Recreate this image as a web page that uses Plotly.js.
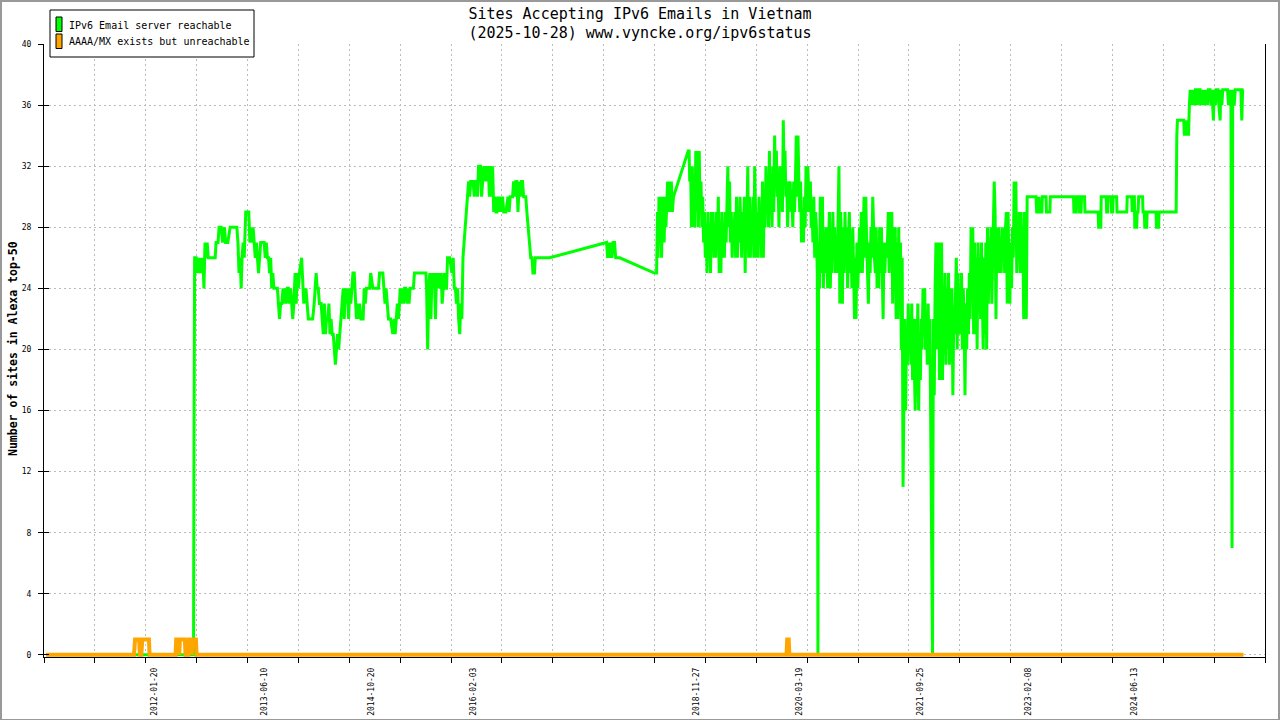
<!DOCTYPE html>
<html><head><meta charset="utf-8">
<script src="https://cdn.plot.ly/plotly-3.0.1.min.js"></script>
<style>
html,body{margin:0;padding:0;background:#fff;}
#chart{width:1280px;height:720px;position:absolute;left:0;top:0;}
#frame{position:absolute;left:0;top:0;width:1280px;height:720px;box-sizing:border-box;border-style:solid;border-color:#999;border-width:2px 2px 1px 2px;pointer-events:none;}
</style>
</head><body>
<div id="chart"></div><div id="frame"></div>
<script>
// ---------- text ----------
const titleLine1 = 'Sites Accepting IPv6 Emails in Vietnam';
const titleLine2 = '(2025-10-28) www.vyncke.org/ipv6status';
const yTitle = 'Number of sites in Alexa top-50';
const seriesNames = ['IPv6 Email server reachable', 'AAAA/MX exists but unreachable'];
const labelDates = ['2012-01-20','2013-06-10','2014-10-20','2016-02-03','2018-11-27','2020-03-19','2021-09-25','2023-02-08','2024-06-13'];
const yTicks = [0,4,8,12,16,20,24,28,32,36,40];

// ---------- green series: IPv6 Email server reachable ----------
const gDatesA = ['2010-09-08','2012-07-20','2012-07-22','2012-07-25',
 '2012-08-01','2012-08-06','2012-08-11','2012-08-16','2012-08-21','2012-08-26',
 '2012-09-01','2012-09-06','2012-09-11','2012-09-16','2012-09-21','2012-09-26',
 '2012-10-01','2012-10-15','2012-10-28',
 '2012-11-01','2012-11-10','2012-11-15','2012-11-25',
 '2012-12-01','2012-12-10','2012-12-15','2012-12-25'];
const gValsA = [0,0,13,26,
 26,25,26,25,26,25,
 26,24,27,26,27,26,
 26,26,26,
 27,27,28,28,
 27,28,27,27];

const gDates2013 = ['2013-01-05','2013-01-25',
 '2013-02-05','2013-02-10','2013-02-15','2013-02-20','2013-02-25',
 '2013-03-01','2013-03-06','2013-03-11','2013-03-18','2013-03-25',
 '2013-04-01','2013-04-06','2013-04-11','2013-04-16','2013-04-21','2013-04-26',
 '2013-05-01','2013-05-06','2013-05-11','2013-05-16','2013-05-21','2013-05-26',
 '2013-06-01','2013-06-11','2013-06-16','2013-06-21','2013-06-26',
 '2013-07-01','2013-07-06','2013-07-11','2013-07-16','2013-07-21','2013-07-26',
 '2013-08-01','2013-08-11','2013-08-21','2013-08-26',
 '2013-09-01','2013-09-06','2013-09-11','2013-09-16','2013-09-21','2013-09-26',
 '2013-10-01','2013-10-06','2013-10-11','2013-10-16','2013-10-21','2013-10-26',
 '2013-11-01','2013-11-06','2013-11-11','2013-11-16','2013-11-21',
 '2013-12-01','2013-12-06','2013-12-11','2013-12-21','2013-12-26'];
const gVals2013 = [28,28,
 28,27,25,26,24,
 26,27,26,29,29,
 29,27,28,27,28,27,
 26,27,26,25,26,27,
 27,27,26,27,26,
 26,25,26,24,25,24,
 24,24,22,23,
 23,24,23,24,23,24,
 24,23,24,23,22,23,
 25,23,25,24,25,
 26,24,23,24,23];

const gDates2014 = ['2014-01-01','2014-01-11','2014-01-21','2014-01-28',
 '2014-02-01','2014-02-06','2014-02-11','2014-02-16','2014-02-21',
 '2014-03-01','2014-03-06','2014-03-11','2014-03-16','2014-03-21','2014-03-26',
 '2014-04-01','2014-04-06','2014-04-11','2014-04-16','2014-04-21','2014-04-26',
 '2014-05-01','2014-05-06','2014-05-11','2014-05-16','2014-05-21','2014-05-26',
 '2014-06-01','2014-06-06','2014-06-11','2014-06-16','2014-06-21','2014-06-26',
 '2014-07-01','2014-07-06','2014-07-11','2014-07-16','2014-07-21','2014-07-26',
 '2014-08-01','2014-08-06','2014-08-11','2014-08-16','2014-08-21','2014-08-26',
 '2014-09-01','2014-09-11','2014-09-16','2014-09-21','2014-09-26',
 '2014-10-01','2014-10-11','2014-10-16','2014-10-26',
 '2014-11-01','2014-11-11','2014-11-21','2014-11-26',
 '2014-12-01','2014-12-11','2014-12-16','2014-12-21','2014-12-26'];
const gVals2014 = [22,22,22,23,
 24,25,24,24,23,
 23,22,21,23,21,22,
 22,23,21,22,21,21,
 20,19,20,21,20,21,
 22,23,24,22,24,23,
 24,22,24,23,24,25,
 25,23,22,23,22,23,
 22,22,24,23,24,
 24,24,25,24,
 24,24,24,25,
 25,25,24,23,24];

const gDates2015 = ['2015-01-01','2015-01-06','2015-01-16','2015-01-26',
 '2015-02-01','2015-02-06','2015-02-16','2015-02-21','2015-02-26',
 '2015-03-01','2015-03-06','2015-03-11','2015-03-16','2015-03-21','2015-03-26',
 '2015-04-01','2015-04-06','2015-04-11','2015-04-16','2015-04-26',
 '2015-05-01','2015-05-06','2015-05-16','2015-05-26',
 '2015-06-01','2015-06-16','2015-06-28',
 '2015-07-01','2015-07-06','2015-07-11','2015-07-16','2015-07-21','2015-07-26',
 '2015-08-01','2015-08-06','2015-08-11','2015-08-16','2015-08-21','2015-08-26',
 '2015-09-01','2015-09-06','2015-09-11','2015-09-16','2015-09-21','2015-09-26',
 '2015-10-01','2015-10-06','2015-10-16','2015-10-26',
 '2015-11-01','2015-11-06','2015-11-11','2015-11-16','2015-11-21','2015-11-26',
 '2015-12-01','2015-12-06','2015-12-11','2015-12-16','2015-12-21','2015-12-26'];
const gVals2015 = [23,22,22,21,
 22,21,23,22,23,
 24,23,24,23,24,24,
 23,24,23,24,24,
 24,25,25,25,
 25,25,25,
 24,20,24,25,22,25,
 24,25,22,25,24,25,
 24,25,23,24,25,24,
 24,26,26,25,
 26,24,24,23,24,22,
 21,23,22,26,27,28];

const gDates2016 = ['2016-01-01','2016-01-06','2016-01-11','2016-01-16','2016-01-21','2016-01-26',
 '2016-02-01','2016-02-06','2016-02-11','2016-02-16','2016-02-21','2016-02-26',
 '2016-03-01','2016-03-06','2016-03-11','2016-03-16','2016-03-21','2016-03-26',
 '2016-04-01','2016-04-06','2016-04-11','2016-04-16','2016-04-21','2016-04-26',
 '2016-05-01','2016-05-06','2016-05-11','2016-05-16','2016-05-21','2016-05-26',
 '2016-06-01','2016-06-06','2016-06-11','2016-06-16','2016-06-21',
 '2016-07-01','2016-07-11','2016-07-16','2016-07-21',
 '2016-08-01','2016-08-06','2016-08-11','2016-08-16','2016-08-21','2016-08-26',
 '2016-09-01','2016-09-06','2016-09-11','2016-09-16','2016-09-21',
 '2016-10-01','2016-10-06','2016-10-12','2016-10-18','2016-10-24','2016-10-30',
 '2016-11-03','2016-11-10','2016-11-14','2016-11-30',
 '2016-12-15','2017-01-19'];
const gVals2016 = [29,30,31,30,31,31,
 31,30,31,31,30,32,
 32,32,30,31,32,31,
 32,31,32,30,32,30,
 32,29,30,29,29,30,
 29,30,29,30,29,
 29,30,29,30,
 30,31,30,31,31,29,
 31,30,31,31,30,
 30,29,28,27,26,26,
 25,25,26,26,
 26,26];

const gDates2017 = ['2017-10-09','2017-10-14','2017-10-18','2017-10-24','2017-10-29',
 '2017-11-03','2017-11-08','2017-11-15','2017-11-20','2017-12-09',
 '2018-05-18','2018-05-28',
 '2018-06-01','2018-06-04','2018-06-08','2018-06-12','2018-06-16','2018-06-20','2018-06-24','2018-06-28',
 '2018-07-02','2018-07-06','2018-07-10','2018-07-14','2018-07-18','2018-07-22','2018-07-26','2018-07-30',
 '2018-08-04','2018-08-09','2018-08-14',
 '2018-10-21','2018-10-25','2018-10-28','2018-11-01',
 '2018-11-05','2018-11-09','2018-11-13','2018-11-17','2018-11-21','2018-11-25','2018-11-29',
 '2018-12-03','2018-12-07','2018-12-11','2018-12-15','2018-12-19','2018-12-23','2018-12-27','2018-12-31'];
const gVals2017 = [27,26,27,26,27,
 26,27,27,26,26,
 25,25,
 29,26,30,27,30,26,29,30,
 27,30,28,30,31,29,31,29,
 31,29,30,
 33,33,31,32,
 28,32,28,31,28,33,29,
 33,28,33,29,31,28,30,27];

const gDates2019 = ['2019-01-04','2019-01-08','2019-01-12','2019-01-16','2019-01-20','2019-01-24','2019-01-28',
 '2019-02-01','2019-02-05','2019-02-09','2019-02-13','2019-02-17','2019-02-21','2019-02-25',
 '2019-03-01','2019-03-05','2019-03-09','2019-03-13','2019-03-17','2019-03-21','2019-03-25','2019-03-29',
 '2019-04-02','2019-04-06','2019-04-10','2019-04-14','2019-04-18','2019-04-22','2019-04-26','2019-04-30',
 '2019-05-04','2019-05-08','2019-05-12','2019-05-16','2019-05-20','2019-05-24','2019-05-28',
 '2019-06-01','2019-06-05','2019-06-09','2019-06-13','2019-06-17','2019-06-21','2019-06-25','2019-06-29',
 '2019-07-03','2019-07-07','2019-07-11','2019-07-15','2019-07-19','2019-07-23','2019-07-27','2019-07-31',
 '2019-08-04','2019-08-08','2019-08-12','2019-08-16','2019-08-20','2019-08-24','2019-08-28',
 '2019-09-01','2019-09-05','2019-09-09','2019-09-13','2019-09-17','2019-09-21','2019-09-25','2019-09-29',
 '2019-10-03','2019-10-07','2019-10-11','2019-10-15','2019-10-19','2019-10-23','2019-10-27','2019-10-31',
 '2019-11-04','2019-11-08','2019-11-12','2019-11-16','2019-11-20','2019-11-24','2019-11-28',
 '2019-12-02','2019-12-06','2019-12-10','2019-12-14','2019-12-18','2019-12-22','2019-12-26','2019-12-30'];
const gVals2019 = [29,26,28,25,29,26,28,
 25,29,27,29,26,28,26,
 29,27,30,25,27,25,29,26,
 28,26,29,27,30,32,28,31,
 27,29,26,28,27,29,26,
 30,26,29,27,30,28,26,29,
 27,30,25,29,28,32,26,30,
 26,29,27,30,26,32,28,
 26,29,26,30,27,29,26,31,
 26,30,28,32,29,31,28,33,
 29,31,28,32,29,34,31,
 33,30,31,28,32,30,31,29];

const gDates2020 = ['2020-01-03','2020-01-07','2020-01-11','2020-01-15','2020-01-19','2020-01-23','2020-01-27','2020-01-31',
 '2020-02-04','2020-02-08','2020-02-12','2020-02-16','2020-02-20','2020-02-24','2020-02-28',
 '2020-03-03','2020-03-07','2020-03-11','2020-03-15','2020-03-19','2020-03-23','2020-03-27',
 '2020-04-01','2020-04-05','2020-04-09','2020-04-13','2020-04-17','2020-04-21','2020-04-25','2020-04-29',
 '2020-05-03','2020-05-07','2020-05-11','2020-05-15','2020-05-19','2020-05-23','2020-05-27','2020-05-31',
 '2020-06-04','2020-06-08','2020-06-11','2020-06-14','2020-06-18','2020-06-22','2020-06-26','2020-06-30',
 '2020-07-02','2020-07-06','2020-07-10','2020-07-14','2020-07-18','2020-07-22','2020-07-26','2020-07-30',
 '2020-08-03','2020-08-07','2020-08-11','2020-08-15','2020-08-19','2020-08-23','2020-08-27','2020-08-31',
 '2020-09-04','2020-09-08','2020-09-12','2020-09-16','2020-09-20','2020-09-24','2020-09-28',
 '2020-10-02','2020-10-06','2020-10-10','2020-10-14','2020-10-18','2020-10-22','2020-10-26','2020-10-30',
 '2020-11-03','2020-11-07','2020-11-11','2020-11-15','2020-11-19','2020-11-23','2020-11-27','2020-11-30',
 '2020-12-04','2020-12-08','2020-12-12','2020-12-16','2020-12-20','2020-12-24','2020-12-28'];
const gVals2020 = [35,31,33,30,31,28,31,30,
 31,29,30,28,31,29,31,
 34,30,34,31,29,31,27,
 29,27,30,28,32,29,32,30,
 29,31,28,29,27,30,26,29,
 28,25,0,27,24,30,25,27,
 30,24,27,25,28,26,24,27,
 29,24,27,25,29,26,28,25,
 27,25,28,32,23,29,26,
 23,28,25,29,26,28,24,27,
 29,25,27,24,28,25,22,26,
 22,27,24,26,28,25,29];

const gDates2021 = ['2021-01-02','2021-01-06','2021-01-10','2021-01-14','2021-01-18','2021-01-22','2021-01-26','2021-01-30',
 '2021-02-03','2021-02-07','2021-02-11','2021-02-15','2021-02-19','2021-02-23','2021-02-27',
 '2021-03-03','2021-03-07','2021-03-11','2021-03-15','2021-03-19','2021-03-23','2021-03-27','2021-03-31',
 '2021-04-04','2021-04-08','2021-04-12','2021-04-16','2021-04-20','2021-04-24','2021-04-28',
 '2021-05-02','2021-05-06','2021-05-10','2021-05-14','2021-05-18','2021-05-22','2021-05-26','2021-05-30',
 '2021-06-03','2021-06-07','2021-06-11','2021-06-15','2021-06-19','2021-06-23','2021-06-27',
 '2021-07-01','2021-07-05','2021-07-09','2021-07-13','2021-07-17','2021-07-21','2021-07-25','2021-07-29',
 '2021-08-02','2021-08-06','2021-08-10','2021-08-14','2021-08-18','2021-08-22','2021-08-26','2021-08-30',
 '2021-09-03','2021-09-07','2021-09-11','2021-09-15','2021-09-19','2021-09-23','2021-09-27',
 '2021-10-01','2021-10-05','2021-10-09','2021-10-13','2021-10-17','2021-10-21','2021-10-25','2021-10-29',
 '2021-11-02','2021-11-06','2021-11-10','2021-11-14','2021-11-18','2021-11-22','2021-11-26','2021-11-30',
 '2021-12-04','2021-12-08','2021-12-12','2021-12-16','2021-12-20','2021-12-24','2021-12-28'];
const gVals2021 = [25,28,30,26,30,27,24,23,
 27,25,28,26,30,27,26,
 25,28,24,27,24,28,25,28,
 25,22,27,25,27,26,27,
 29,25,29,26,29,23,28,24,
 28,22,27,22,28,23,27,
 20,26,11,16,22,16,21,19,
 23,20,22,19,23,18,22,19,
 16,22,17,23,16,21,18,
 22,20,24,21,24,20,22,19,
 23,19,22,16,11,0,22,17,
 24,27,20,25,27,18,22];

const gDates2022 = ['2022-01-03','2022-01-07','2022-01-11','2022-01-15','2022-01-19','2022-01-23','2022-01-27','2022-01-31',
 '2022-02-04','2022-02-08','2022-02-12','2022-02-16','2022-02-20','2022-02-24','2022-02-28',
 '2022-03-04','2022-03-08','2022-03-12','2022-03-16','2022-03-20','2022-03-24','2022-03-28',
 '2022-04-01','2022-04-05','2022-04-09','2022-04-13','2022-04-17','2022-04-21','2022-04-25','2022-04-29',
 '2022-05-03','2022-05-07','2022-05-11','2022-05-15','2022-05-19','2022-05-23','2022-05-27','2022-05-31',
 '2022-06-04','2022-06-08','2022-06-12','2022-06-16','2022-06-20','2022-06-24','2022-06-28',
 '2022-07-02','2022-07-06','2022-07-10','2022-07-14','2022-07-18','2022-07-22','2022-07-26','2022-07-30',
 '2022-08-03','2022-08-07','2022-08-11','2022-08-15','2022-08-19','2022-08-23','2022-08-27','2022-08-31',
 '2022-09-03','2022-09-07','2022-09-11','2022-09-15','2022-09-19','2022-09-23','2022-09-27',
 '2022-10-01','2022-10-05','2022-10-09','2022-10-13','2022-10-17','2022-10-21','2022-10-25','2022-10-29',
 '2022-11-02','2022-11-06','2022-11-10','2022-11-14','2022-11-18','2022-11-22','2022-11-26','2022-11-30',
 '2022-12-04','2022-12-08','2022-12-12','2022-12-16','2022-12-20','2022-12-24','2022-12-28',
 '2023-01-01','2023-01-05','2023-01-09','2023-01-13','2023-01-17','2023-01-21','2023-01-25','2023-01-29'];
const gVals2022 = [27,18,23,20,25,19,24,20,
 25,19,24,20,24,17,22,
 21,23,26,20,25,21,24,
 21,25,20,24,22,17,23,20,
 24,21,25,22,28,24,28,21,
 27,21,26,20,27,23,26,
 22,27,23,20,26,21,27,20,
 28,23,27,25,28,23,26,30,
 31,29,22,28,25,28,25,
 27,25,28,26,28,25,28,29,
 23,29,25,23,27,24,28,26,
 31,28,31,25,28,26,29,
 25,29,26,28,22,29,24,22];

const gDates2023 = ['2023-02-02','2023-03-15','2023-03-18','2023-03-27','2023-03-29','2023-03-31','2023-04-11','2023-04-13',
 '2023-04-30','2023-05-02','2023-05-18','2023-05-20','2023-09-04','2023-09-06','2023-09-16','2023-09-18',
 '2023-09-29','2023-10-01','2023-10-09','2023-10-11','2023-10-25','2023-10-27','2023-12-27','2023-12-29',
 '2024-01-08','2024-01-10','2024-02-02','2024-02-04','2024-02-09','2024-02-11','2024-02-25','2024-02-27',
 '2024-03-03','2024-03-05','2024-03-21','2024-03-23','2024-05-07','2024-05-09','2024-05-30','2024-06-01',
 '2024-06-05','2024-06-11','2024-06-13','2024-06-22','2024-06-24','2024-06-28','2024-07-01','2024-07-19',
 '2024-07-21','2024-07-27','2024-07-29','2024-08-07','2024-08-09','2024-09-19','2024-09-21','2024-10-01',
 '2024-10-03','2024-12-21','2024-12-24','2024-12-27'];
const gVals2023 = [30,30,29,29,30,29,29,30,
 30,29,29,30,30,29,29,30,
 30,29,29,30,30,29,29,28,
 28,30,30,29,29,30,30,29,
 29,30,30,29,29,30,30,29,
 30,30,28,28,29,29,30,30,
 29,29,28,28,29,29,28,28,
 29,29,34,35];

const gDates2025 = ['2025-01-25','2025-01-28','2025-02-03','2025-02-07','2025-02-12','2025-02-16','2025-02-20','2025-02-24','2025-02-28',
 '2025-03-04','2025-03-08','2025-03-12','2025-03-16','2025-03-20','2025-03-26','2025-03-30',
 '2025-04-03','2025-04-10','2025-04-14','2025-04-18','2025-04-24','2025-04-28',
 '2025-05-05','2025-05-09','2025-05-15','2025-05-19','2025-05-27','2025-05-31',
 '2025-06-04','2025-06-08','2025-06-11','2025-06-14','2025-06-20','2025-06-24',
 '2025-07-02','2025-07-06','2025-07-12','2025-07-15','2025-07-20','2025-07-24',
 '2025-08-05','2025-08-15','2025-08-20','2025-08-25','2025-08-31',
 '2025-09-03','2025-09-05','2025-09-08','2025-09-15','2025-09-20',
 '2025-10-16','2025-10-20','2025-10-24','2025-10-28'];
const gVals2025 = [35,34,35,34,35,34,36,37,36,
 37,36,37,36,37,37,36,
 37,37,36,37,36,37,
 36,37,36,37,37,36,
 37,36,35,37,36,37,
 37,36,35,37,36,37,
 37,37,36,37,36,
 22,7,37,36,37,
 37,35,37,37];

// ---------- orange series: AAAA/MX exists but unreachable ----------
const oDates = ['2010-09-08','2011-10-19','2011-10-24','2011-11-12','2011-11-15','2011-11-22','2011-11-26','2011-12-27','2011-12-30',
 '2012-04-28','2012-05-01','2012-05-12','2012-05-15','2012-05-18','2012-06-10','2012-06-13',
 '2012-06-26','2012-06-29','2012-07-09','2012-07-12','2012-07-15','2012-07-31','2012-08-03',
 '2020-01-18','2020-01-21','2020-01-28','2020-01-31','2025-10-28'];
const oVals = [0,0,1,1,0,0,1,1,0,
 0,1,1,0,1,1,0,
 0,1,1,0,1,1,0,
 0,1,1,0,0];

const greenDates = [].concat(gDatesA, gDates2013, gDates2014, gDates2015, gDates2016, gDates2017, gDates2019, gDates2020, gDates2021, gDates2022, gDates2023, gDates2025);
const greenVals  = [].concat(gValsA, gVals2013, gVals2014, gVals2015, gVals2016, gVals2017, gVals2019, gVals2020, gVals2021, gVals2022, gVals2023, gVals2025);

// ---------- layout geometry ----------
const PL = 44, PR = 1265, PT = 44, PB = 657;
const xRange = ['2010-08-29 12:00', '2026-02-04 05:00'];
const yRange = [-0.14, 40];
const fx = px => (px - PL) / (PR - PL);
const fy = py => (PB - py) / (PB - PT);

const t0 = new Date(xRange[0].replace(' ', 'T') + 'Z').getTime();
const t1 = new Date(xRange[1].replace(' ', 'T') + 'Z').getTime();
const gridTicks = [];
for (let i = 0; i <= 24; i++) gridTicks.push(t0 + (t1 - t0) * i / 24);

const MONO = 'DejaVu Sans Mono';
const GRID = '#bbbbbb';

const traces = [
  {x: greenDates, y: greenVals, type: 'scatter', mode: 'lines', name: seriesNames[0],
   line: {color: '#00ff00', width: 3}, showlegend: false, hoverinfo: 'skip'},
  {x: oDates, y: oVals, type: 'scatter', mode: 'lines', name: seriesNames[1], xaxis: 'x2', yaxis: 'y2',
   line: {color: '#ffa500', width: 4}, showlegend: false, hoverinfo: 'skip'}
];

const shapes = [
  {type: 'rect', xref: 'paper', yref: 'paper', x0: fx(50), x1: fx(254), y0: fy(57), y1: fy(10),
   line: {color: '#000', width: 1}, fillcolor: '#fff', layer: 'above'},
  {type: 'rect', xref: 'paper', yref: 'paper', x0: fx(56), x1: fx(62), y0: fy(31.5), y1: fy(17),
   line: {color: '#000', width: 1}, fillcolor: '#00ff00', layer: 'above'},
  {type: 'rect', xref: 'paper', yref: 'paper', x0: fx(56), x1: fx(62), y0: fy(48.5), y1: fy(34),
   line: {color: '#000', width: 1}, fillcolor: '#ffa500', layer: 'above'}
];

const annotations = [
  {xref: 'paper', yref: 'paper', x: fx(67), y: fy(25), xanchor: 'left', yanchor: 'middle', showarrow: false,
   text: seriesNames[0], font: {family: MONO, size: 10, color: '#000'}},
  {xref: 'paper', yref: 'paper', x: fx(67), y: fy(42), xanchor: 'left', yanchor: 'middle', showarrow: false,
   text: seriesNames[1], font: {family: MONO, size: 10, color: '#000'}},
  {xref: 'paper', yref: 'paper', x: fx(13), y: fy(349), xanchor: 'center', yanchor: 'middle', showarrow: false,
   textangle: -90, text: '<b>' + yTitle + '</b>', font: {family: MONO, size: 11.5, color: '#000'}}
];

const layout = {
  width: 1280, height: 720,
  margin: {l: PL, r: 1280 - PR, t: PT, b: 720 - PB, pad: 0},
  paper_bgcolor: '#fff', plot_bgcolor: '#fff',
  font: {family: MONO, color: '#000'},
  showlegend: false,
  title: {text: titleLine1 + '<br>' + titleLine2, font: {family: MONO, size: 15, color: '#000'},
          x: 0.5, xref: 'container', xanchor: 'center', y: 0.974, yref: 'container', yanchor: 'top'},
  xaxis: {type: 'date', range: xRange, tickmode: 'array', tickvals: gridTicks, showticklabels: false,
          ticks: 'outside', ticklen: 5, tickcolor: '#000', tickwidth: 1,
          showgrid: true, gridcolor: GRID, griddash: '2px,3px', gridwidth: 1,
          showline: true, linecolor: '#000', linewidth: 1, zeroline: false, layer: 'below traces'},
  xaxis2: {type: 'date', overlaying: 'x', anchor: 'y', side: 'bottom', range: xRange,
           tickmode: 'array', tickvals: labelDates, ticktext: labelDates, tickangle: -90,
           ticks: '', showgrid: false, showline: false, zeroline: false, ticklabelstandoff: 8,
           tickfont: {family: MONO, size: 8, color: '#000'}},
  yaxis: {range: yRange, tickmode: 'array', tickvals: yTicks, ticktext: yTicks.map(String),
          ticks: 'outside', ticklen: 5, tickcolor: '#000', ticklabelstandoff: 5,
          tickfont: {family: MONO, size: 8, color: '#000'},
          showgrid: true, gridcolor: GRID, griddash: '2px,3px', gridwidth: 1,
          showline: true, linecolor: '#000', linewidth: 1, mirror: true, zeroline: false, layer: 'below traces'},
  yaxis2: {range: yRange, overlaying: 'y', anchor: 'x', side: 'left', tickmode: 'array', tickvals: yTicks,
           showticklabels: false, ticks: 'inside', ticklen: 5, tickcolor: '#000',
           showgrid: false, showline: false, zeroline: false},
  shapes: shapes,
  annotations: annotations
};

Plotly.newPlot('chart', traces, layout, {staticPlot: true, displayModeBar: false});
</script>
</body></html>
